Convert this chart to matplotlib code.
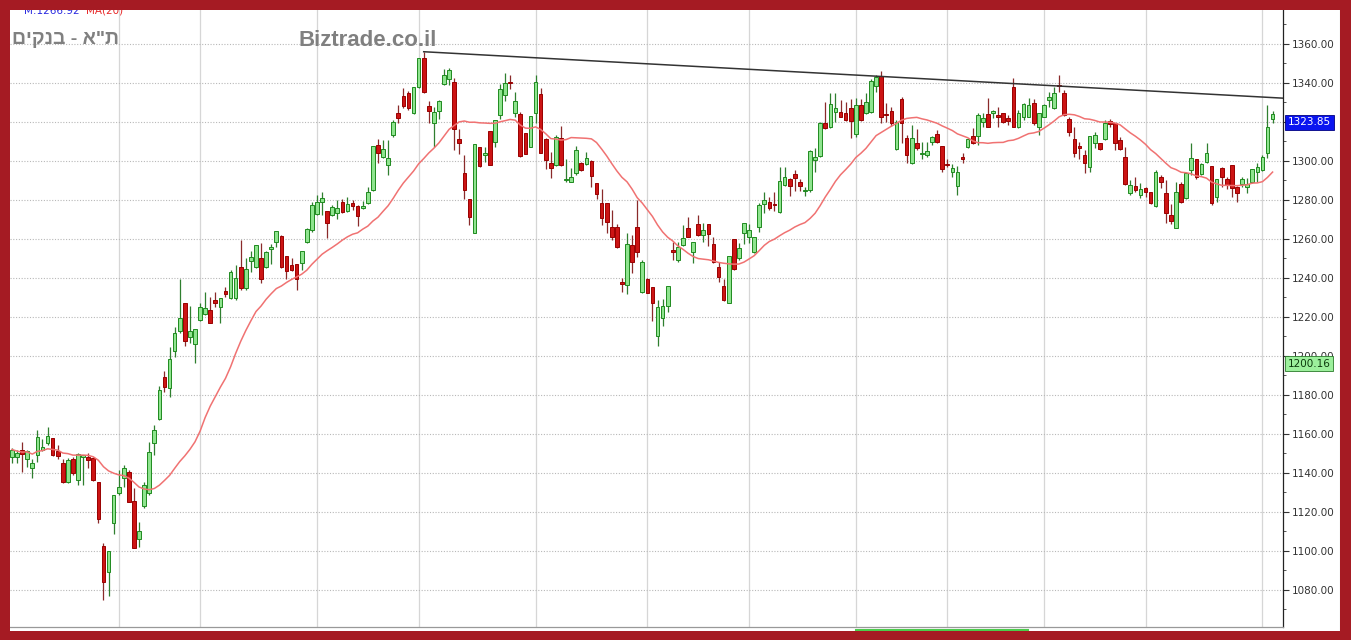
import numpy as np
import pandas as pd
import matplotlib
matplotlib.use("Agg")
import matplotlib.pyplot as plt
from matplotlib.patches import Rectangle
from matplotlib.transforms import blended_transform_factory

# ---------------- data ----------------
opens = [1148, 1148, 1152, 1147, 1142.4, 1149.2, 1151.8, 1155.6, 1157.8, 1151,
         1145.3, 1135.2, 1147, 1136.4, 1148, 1148, 1147.5, 1135.6, 1102.6, 1089.1,
         1114.2, 1129.6, 1137.3, 1140.7, 1125.8, 1106.3, 1122.8, 1129.6, 1155.2, 1167.5,
         1189.1, 1183.4, 1202.6, 1213, 1227, 1209.6, 1206.1, 1218.5, 1221.4, 1223.6,
         1228.7, 1225, 1233.3, 1229.6, 1229.6, 1245.8, 1234.7, 1248.9, 1245.5, 1250.1,
         1245.8, 1254.7, 1258.6, 1261.5, 1251.3, 1246.6, 1247.2, 1247.9, 1258.6, 1264.6,
         1272.8, 1279.1, 1274.5, 1272.3, 1273.5, 1279.1, 1274.5, 1278.3, 1276.9, 1276,
         1278.3, 1285.1, 1308.2, 1302.2, 1297.9, 1313.3, 1324.8, 1333.3, 1335, 1324.4,
         1337.8, 1352.6, 1328.2, 1319.7, 1325.6, 1339.3, 1341.9, 1340.7, 1311.1, 1293.7,
         1280.3, 1262.9, 1307.3, 1303, 1315.5, 1309.9, 1323.6, 1333.8, 1340.5, 1324.8,
         1324.1, 1314.2, 1306.9, 1324.8, 1334.2, 1311.1, 1299.1, 1297.9, 1311.6, 1290,
         1289.4, 1293.7, 1298.8, 1298.5, 1300.2, 1288.5, 1278.6, 1278.6, 1266, 1266.3,
         1237.7, 1236.4, 1257, 1266.3, 1233, 1239.3, 1235.2, 1210.3, 1219.3, 1225.6,
         1253.8, 1249.2, 1256.9, 1265.5, 1253.5, 1267.5, 1262.1, 1267.5, 1257.4, 1245.8,
         1235.9, 1227.4, 1260, 1250.1, 1263.2, 1261.2, 1253.5, 1266.3, 1278, 1279.1,
         1277.6, 1274, 1287.7, 1290.6, 1293.3, 1289, 1284.5, 1285.1, 1300.5, 1302.6,
         1319.3, 1317.6, 1325, 1325.3, 1324.8, 1327, 1313.8, 1328.7, 1324.8, 1325.3,
         1338.5, 1343.6, 1323.6, 1325.8, 1306, 1331.6, 1311.6, 1298.8, 1309.4, 1303.4,
         1303.1, 1309.9, 1313.8, 1307.7, 1298, 1294.5, 1287.2, 1301.6, 1307, 1312.8,
         1312.8, 1320, 1324.1, 1324.4, 1323.6, 1324.4, 1322, 1338.1, 1317.6, 1322.4,
         1322.7, 1329.6, 1317.6, 1322.7, 1331.3, 1327, 1339, 1334.7, 1321.4, 1311.1,
         1307.7, 1303.1, 1297.1, 1309.4, 1309.1, 1311.1, 1320.5, 1319.7, 1310.8, 1301.9,
         1283.4, 1287.2, 1282.6, 1286.3, 1284.3, 1276.9, 1291.6, 1283.4, 1272.3, 1265.5,
         1288.2, 1280.9, 1295.4, 1300.9, 1293.3, 1299.6, 1297.4, 1281.4, 1296.2, 1290.6,
         1298, 1286.8, 1288.2, 1286.5, 1289.4, 1294.5, 1295.4, 1304.3, 1321.4]
highs = [1153, 1152, 1156, 1152, 1147, 1162, 1157.3, 1163.8, 1157.8, 1154.4,
         1147, 1147.5, 1148, 1150, 1149.3, 1150.4, 1148, 1135.6, 1104.3, 1100.2,
         1128.9, 1141.5, 1144, 1141.5, 1132.1, 1115, 1135.6, 1156, 1164.6, 1184.6,
         1192.5, 1204.4, 1215, 1239.5, 1227, 1225.8, 1213.7, 1227, 1232.6, 1230.4,
         1232.6, 1229.6, 1235.5, 1244.1, 1246.6, 1259.5, 1250, 1254, 1256.9, 1258.1,
         1254, 1257.5, 1264.3, 1262, 1251.3, 1250.1, 1247.2, 1254, 1265.5, 1279.1,
         1282.5, 1284.3, 1274.5, 1277.4, 1280, 1280.3, 1281.7, 1280, 1277.4, 1279.6,
         1286.8, 1307.7, 1311.1, 1310.8, 1310.8, 1321, 1328.7, 1337.3, 1335.9, 1338.1,
         1352.6, 1356, 1330.8, 1327.9, 1331.3, 1347, 1347.5, 1342.4, 1316.2, 1303.1,
         1280.3, 1308.5, 1307.3, 1307, 1315.5, 1321, 1339.5, 1345, 1344.1, 1335.6,
         1325.3, 1314.2, 1323.1, 1344.1, 1337.3, 1311.6, 1304.8, 1313.3, 1317.9, 1301,
         1296.2, 1307.7, 1299.6, 1304.8, 1300.5, 1288.5, 1285.5, 1278.6, 1274.9, 1267.7,
         1239.8, 1263.2, 1262, 1280, 1249.2, 1239.8, 1235.6, 1228.7, 1229.1, 1235.9,
         1258.6, 1258.6, 1267.2, 1271.5, 1258.6, 1272.3, 1268, 1267.5, 1261.2, 1248.4,
         1239.3, 1251.5, 1260, 1258.1, 1268, 1267.7, 1260.9, 1278.3, 1284.3, 1281.7,
         1284.3, 1297.1, 1297.1, 1291.1, 1295.4, 1290.6, 1286.8, 1305.6, 1306.5, 1320.2,
         1330.4, 1334.7, 1334.7, 1331, 1330.4, 1331.6, 1332.1, 1331.6, 1335, 1341.9,
         1344.1, 1346, 1329.6, 1327.9, 1321, 1332.7, 1313.3, 1318.5, 1316.2, 1309.9,
         1309.9, 1312.8, 1315.9, 1307.7, 1300.9, 1298.5, 1297.4, 1304, 1311.6, 1316.8,
         1324.8, 1324.4, 1332.1, 1326.2, 1327.9, 1324.8, 1323.6, 1342.4, 1326.2, 1329.6,
         1332.1, 1331.6, 1324.4, 1329.2, 1335.6, 1338.1, 1344, 1336.4, 1322.4, 1317.6,
         1309.9, 1305.6, 1312.8, 1315, 1309.1, 1321, 1321.4, 1319.7, 1312.1, 1307.4,
         1290.2, 1292, 1288.5, 1286.5, 1284.3, 1295.4, 1292.8, 1290.2, 1277.9, 1289.4,
         1289.4, 1293.7, 1309.1, 1300.9, 1299.1, 1309.1, 1297.4, 1290.6, 1296.7, 1292,
         1298, 1287.2, 1291.6, 1291.1, 1295.7, 1299.1, 1303.1, 1328.7, 1325.8]
lows = [1145, 1145.3, 1140.7, 1143.2, 1137.3, 1145.8, 1151, 1154.4, 1148.7, 1147,
        1134.7, 1134.7, 1139, 1133.8, 1134, 1142.4, 1136, 1114.5, 1074.9, 1077,
        1108.7, 1128.7, 1133, 1125, 1101.4, 1102.2, 1121.9, 1128.7, 1149.2, 1167.2,
        1181.7, 1179.1, 1199.7, 1212, 1205.1, 1206.8, 1196.2, 1218, 1221, 1216.7,
        1225.3, 1217, 1230.4, 1229, 1228.7, 1233.8, 1233.8, 1243.2, 1245, 1237.3,
        1245, 1247.2, 1256, 1245, 1239.3, 1243.8, 1233.8, 1244.1, 1257.8, 1263.8,
        1272.3, 1272.3, 1260.3, 1271.8, 1270.1, 1273.2, 1274, 1274.9, 1266.6, 1275.5,
        1278, 1284.8, 1299, 1301.4, 1292.8, 1312.5, 1319.7, 1327, 1326.1, 1324,
        1337.3, 1334.7, 1319.3, 1307, 1321.4, 1339, 1339, 1305.6, 1303.6, 1280.3,
        1267.2, 1262.9, 1297.1, 1299.7, 1297.9, 1307.4, 1321.4, 1330.9, 1336.8, 1322.7,
        1302.2, 1303.6, 1306.9, 1319.3, 1303.9, 1295.7, 1291.1, 1297.4, 1297.4, 1289.3,
        1289.4, 1292.8, 1295, 1297.9, 1286.8, 1280.3, 1267.2, 1263.2, 1259.5, 1255.2,
        1233, 1232, 1242.4, 1250.9, 1232.5, 1232.1, 1218.1, 1205.1, 1215.4, 1222.7,
        1249.2, 1248.4, 1256.4, 1260.9, 1247.5, 1261.5, 1258.6, 1256.4, 1247.9, 1238.1,
        1228.4, 1227, 1244.1, 1249.2, 1257.4, 1258.1, 1252.7, 1263.8, 1273.2, 1274.9,
        1274.5, 1273.5, 1287.2, 1282.1, 1284.8, 1284.8, 1282.1, 1284.3, 1294.5, 1302.2,
        1316.2, 1316.8, 1320.2, 1322.4, 1320.7, 1311.6, 1312.5, 1320.7, 1324.1, 1324.8,
        1335.6, 1319.3, 1320.2, 1318, 1305.6, 1309.1, 1298.8, 1298.5, 1305.6, 1300.9,
        1302.2, 1308.2, 1309.4, 1294.5, 1297.1, 1292, 1282.6, 1298.8, 1306.5, 1308.7,
        1308.2, 1317.6, 1317.3, 1321.9, 1317.6, 1319.3, 1318.5, 1317.3, 1316.8, 1321,
        1322.4, 1318.5, 1313.3, 1322.4, 1327.9, 1326.5, 1335.6, 1323.1, 1312.8, 1302.2,
        1300.9, 1294, 1294.5, 1306.5, 1305.6, 1310.8, 1317.6, 1305.6, 1305.6, 1287.7,
        1282.6, 1284.3, 1280.9, 1281.7, 1278, 1276.6, 1286, 1268.4, 1267.7, 1265.5,
        1278.6, 1280.3, 1292.8, 1290.6, 1292.8, 1298.8, 1277.4, 1279.1, 1286.5, 1285.5,
        1281.4, 1279.1, 1286.5, 1283.4, 1288.9, 1289.4, 1295, 1301.4, 1319.3]
closes = [1152, 1150.4, 1149.6, 1151.3, 1145, 1158.3, 1153.5, 1159, 1149.2, 1148.7,
          1135.2, 1146.7, 1139.8, 1149.6, 1149.2, 1146.7, 1136.4, 1116.2, 1084, 1100.2,
          1128.5, 1133, 1142.4, 1125.3, 1101.7, 1110.2, 1133.8, 1150.9, 1162, 1182.6,
          1183.9, 1198.3, 1212, 1219.3, 1207.7, 1213, 1213.7, 1225.3, 1224.4, 1217.1,
          1227, 1229.6, 1232, 1242.9, 1239.8, 1234.7, 1244.4, 1250.6, 1256.9, 1239.3,
          1253.2, 1255.7, 1264.3, 1245.8, 1243.8, 1244.1, 1239.3, 1254, 1265.1, 1277.4,
          1278.8, 1280.8, 1268.4, 1276.6, 1275.7, 1274, 1277.9, 1277, 1271.8, 1276.6,
          1284.3, 1307.7, 1303.9, 1306, 1301.4, 1320.2, 1321.9, 1328.2, 1327, 1338.1,
          1352.6, 1335.1, 1325.8, 1325.3, 1330.8, 1344.1, 1346.7, 1316.2, 1309, 1285.1,
          1271.4, 1308.5, 1297.4, 1304, 1298, 1321, 1336.8, 1339.8, 1339.8, 1330.8,
          1302.6, 1303.6, 1323.1, 1340.7, 1304.3, 1300.5, 1296.2, 1312.1, 1297.9, 1290.5,
          1292, 1305.6, 1295.4, 1301.4, 1292.3, 1283.1, 1270.6, 1268.9, 1260.8, 1255.7,
          1237, 1257.4, 1248.4, 1253.5, 1248.4, 1232.5, 1227.4, 1225.3, 1225.6, 1235.9,
          1253.5, 1255.7, 1260.3, 1261.2, 1258.6, 1262.1, 1264.6, 1262.6, 1248.4, 1240.7,
          1228.7, 1251.5, 1244.4, 1255.2, 1268, 1264.6, 1260.9, 1277.4, 1280, 1275.7,
          1277.4, 1289.9, 1292, 1287.2, 1291.1, 1287, 1284.6, 1305.3, 1301.9, 1319.3,
          1316.8, 1329.1, 1327, 1322.7, 1321, 1320.7, 1328.7, 1321, 1330.4, 1341.2,
          1342.9, 1322.7, 1323.5, 1319.3, 1320.2, 1319.3, 1303.1, 1311.6, 1306.5, 1304.3,
          1305.3, 1312.1, 1309.9, 1295.7, 1297.9, 1296.2, 1294.5, 1301.2, 1311.1, 1309.4,
          1323.6, 1322, 1317.6, 1325.6, 1322.4, 1320.2, 1320.5, 1317.6, 1324.4, 1329.2,
          1328.7, 1319.7, 1324.4, 1328.7, 1333, 1334.7, 1338.2, 1323.6, 1315, 1303.9,
          1306.5, 1298.8, 1312.8, 1313.3, 1306, 1319.7, 1318.8, 1309.4, 1306, 1288.2,
          1287.7, 1285.1, 1285.5, 1284.3, 1278.3, 1294.5, 1289.4, 1273.5, 1269.4, 1284.3,
          1279.1, 1293.7, 1301.4, 1292, 1298.5, 1304.3, 1278.6, 1290.6, 1291.6, 1287.7,
          1286, 1283.4, 1290.6, 1288.2, 1295.7, 1296.7, 1301.9, 1317.6, 1323.85]

ma_period = 20
month_ticks = [21, 37, 60, 80, 103, 125, 145, 166, 184, 203, 223, 246]
y_ticks = list(range(1080, 1361, 20))
trend_x = [81, 250]
trend_y = [1356.0, 1332.2]
last_value, last_label = 1323.85, "1323.85"
aux_value, aux_label = 1200.16, "1200.16"
title_he = 'ת"א - בנקים'
site_name = "Biztrade.co.il"
legend_m = "M:1266.92"
legend_ma = "MA(20)"

# ---------------- figure ----------------
W, H = 1351, 640
fig = plt.figure(figsize=(W / 100, H / 100), dpi=100)
fig.patch.set_facecolor("white")


def fx(px):
    return px / W


def fy(py):
    return 1 - py / H


ax = fig.add_axes([fx(10), fy(627), fx(1283) - fx(10), fy(10) - fy(627)])
ax.set_facecolor("white")

o = np.array(opens, float)
h = np.array(highs, float)
l = np.array(lows, float)
c = np.array(closes, float)
x = np.arange(len(c))
up = c >= o

g_fill, g_edge, g_wick = "#8fe48f", "#1f8a1f", "#2f7f2f"
r_fill, r_edge, r_wick = "#cc1414", "#990000", "#8a2a2a"

ax.vlines(x[up], l[up], h[up], color=g_wick, lw=0.9, zorder=2)
ax.vlines(x[~up], l[~up], h[~up], color=r_wick, lw=0.9, zorder=2)
bottom = np.minimum(o, c)
height = np.maximum(np.abs(c - o), 0.7)
ax.bar(x[up], height[up], bottom=bottom[up], width=0.72, color=g_fill,
       edgecolor=g_edge, linewidth=0.7, zorder=3)
ax.bar(x[~up], height[~up], bottom=bottom[~up], width=0.72, color=r_fill,
       edgecolor=r_edge, linewidth=0.7, zorder=3)

ma = pd.Series(c).rolling(ma_period, min_periods=1).mean()
ax.plot(x, ma, color="#f07272", lw=1.1, zorder=4)

ax.plot(trend_x, trend_y, color="#333333", lw=1.1, zorder=5)

ax.set_xlim(-0.39, 250.05)
ax.set_ylim(1061.0, 1377.4)

# grid
ax.set_xticks(month_ticks)
ax.set_xticklabels([])
ax.tick_params(axis="x", length=0)
ax.set_yticks(y_ticks)
ax.set_yticks([v + 10 for v in range(1060, 1361, 20)], minor=True)
ax.grid(axis="y", which="major", color="#b8b8b8", linestyle=(0, (1, 1.5)), lw=0.8, zorder=0)
ax.grid(axis="x", which="major", color="#d6d6d6", linestyle="-", lw=0.9, zorder=0)
ax.set_axisbelow(True)

ax.yaxis.tick_right()
# the 1320 label sits fully under the last-value box in the reference
ax.set_yticklabels(["" if v == 1320 else f"{v:.2f}" for v in y_ticks])
ax.tick_params(axis="y", which="major", direction="out", length=4, width=0.8,
               color="#333333", labelsize=7.5, labelcolor="#333333", pad=2.5)
ax.tick_params(axis="y", which="minor", direction="out", length=2.5, width=0.7,
               color="#555555")
for t in ax.get_yticklabels():
    t.set_fontfamily("DejaVu Sans")

ax.spines["left"].set_visible(False)
ax.spines["top"].set_visible(False)
ax.spines["right"].set_color("#222222")
ax.spines["right"].set_linewidth(0.9)
ax.spines["bottom"].set_color("#999999")
ax.spines["bottom"].set_linewidth(0.9)

# value boxes on the right axis (box top at the value)
trans = blended_transform_factory(ax.transAxes, ax.transData)
xb = (1288 - 10) / (1283 - 10)
ax.annotate(last_label, xy=(xb, last_value), xycoords=trans, xytext=(0, -2.2),
            textcoords="offset points", ha="left", va="top",
            fontsize=7.5, color="white", family="DejaVu Sans", annotation_clip=False, zorder=6,
            bbox=dict(boxstyle="square,pad=0.25", fc="#0a14f0", ec="#000080", lw=0.6))
ax.annotate(aux_label, xy=(xb, aux_value), xycoords=trans, xytext=(0, -2.2),
            textcoords="offset points", ha="left", va="top",
            fontsize=7.5, color="#0c3a0c", family="DejaVu Sans", annotation_clip=False, zorder=6,
            bbox=dict(boxstyle="square,pad=0.25", fc="#9cf09c", ec="#2a7a2a", lw=0.6))

# header texts
fig.text(fx(12), fy(40), title_he[::-1], ha="left", va="center", fontsize=14,
         fontweight="bold", color="#808080", family=["Liberation Sans", "DejaVu Sans"])
fig.text(fx(298), fy(40), site_name, ha="left", va="center", fontsize=16,
         fontweight="bold", color="#808080", family=["Liberation Sans", "DejaVu Sans"])
fig.text(fx(24), fy(13.5), legend_m, ha="left", va="baseline", fontsize=7.5,
         color="#2a2ae0", zorder=5)
fig.text(fx(86), fy(13.5), legend_ma, ha="left", va="baseline", fontsize=7.5,
         color="#e82a2a", zorder=5)

# bottom green highlight
fig.add_artist(plt.Line2D([fx(856), fx(1028)], [fy(629.5), fy(629.5)],
                          transform=fig.transFigure, color="#4ccc4c", lw=1.5, zorder=8))

# red frame
frame = "#a51b23"
for (px, py, pw, ph) in [(0, 0, 10, 640), (0, 0, 1351, 10), (1340, 0, 11, 640), (0, 631, 1351, 9)]:
    fig.add_artist(Rectangle((fx(px), fy(py + ph)), pw / W, ph / H, transform=fig.transFigure,
                             fc=frame, ec="none", zorder=20))
fig.add_artist(plt.Line2D([fx(1339.5), fx(1339.5)], [fy(10), fy(631)],
                          transform=fig.transFigure, color="#9a9a9a", lw=0.8, zorder=19))

fig.savefig("out.png", dpi=100, facecolor="white")
